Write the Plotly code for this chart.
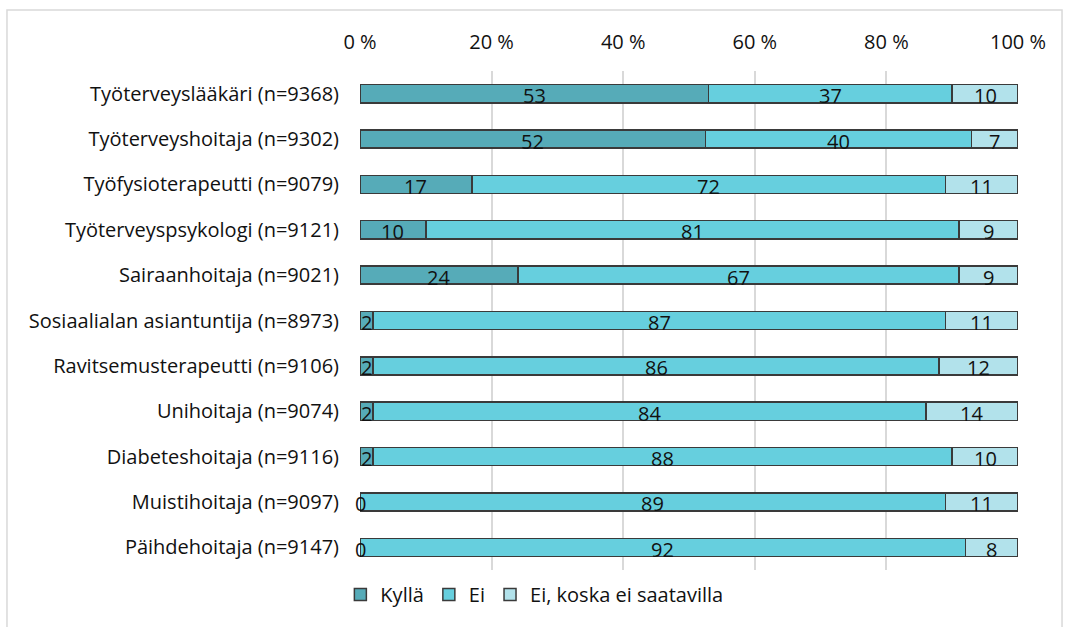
import plotly.graph_objects as go
import numpy as np

categories = [
    "Työterveyslääkäri (n=9368)",
    "Työterveyshoitaja (n=9302)",
    "Työfysioterapeutti (n=9079)",
    "Työterveyspsykologi (n=9121)",
    "Sairaanhoitaja (n=9021)",
    "Sosiaalialan asiantuntija (n=8973)",
    "Ravitsemusterapeutti (n=9106)",
    "Unihoitaja (n=9074)",
    "Diabeteshoitaja (n=9116)",
    "Muistihoitaja (n=9097)",
    "Päihdehoitaja (n=9147)",
]
kylla = [53, 52, 17, 10, 24, 2, 2, 2, 2, 0, 0]
ei = [37, 40, 72, 81, 67, 87, 86, 84, 88, 89, 92]
ei_saatavilla = [10, 7, 11, 9, 9, 11, 12, 14, 10, 11, 8]

series_names = ["Kyllä", "Ei", "Ei, koska ei saatavilla"]
series_values = [kylla, ei, ei_saatavilla]
colors = ["#56ABB8", "#66CFDE", "#B2E2EB"]
tick_vals = [0, 20, 40, 60, 80, 100]
tick_text = ["0 %", "20 %", "40 %", "60 %", "80 %", "100 %"]

FONT = "Open Sans"
FS = 20
TEXT_COLOR = "#111111"

fig = go.Figure()
for name, vals, col in zip(series_names, series_values, colors):
    fig.add_trace(go.Bar(
        y=categories, x=vals, name=name, orientation="h",
        marker=dict(color=col, line=dict(color="#3a3a3a", width=1.5)),
        hoverinfo="x+y+name",
    ))

# value labels, centered in the (normalized) segments
arr = np.array(series_values, dtype=float)
totals = arr.sum(axis=0)
cum = np.zeros(arr.shape[1])
annotations = []
for vals in arr:
    centers = (cum + vals / 2) / totals * 100
    for cat, c, v in zip(categories, centers, vals):
        annotations.append(dict(
            x=c, y=cat, xref="x", yref="y", text=str(int(v)), showarrow=False,
            font=dict(family=FONT, size=FS, color=TEXT_COLOR), yshift=-2,
        ))
    cum += vals

fig.update_layout(
    barmode="stack", barnorm="percent", bargap=0.6,
    width=1069, height=627,
    margin=dict(l=360, r=51, t=71, b=57),
    paper_bgcolor="white", plot_bgcolor="white",
    font=dict(family=FONT, size=FS, color=TEXT_COLOR),
    annotations=annotations,
    showlegend=True,
    legend=dict(orientation="h", x=0.265, xanchor="center", y=-0.01, yanchor="top",
                font=dict(family=FONT, size=FS, color=TEXT_COLOR),
                itemclick=False, traceorder="normal", itemwidth=30),
    shapes=[dict(type="rect", xref="paper", yref="paper",
                 x0=-0.5365, x1=1.0669, y0=-0.3, y1=1.1222,
                 line=dict(color="#D9D9D9", width=1.5), fillcolor="rgba(0,0,0,0)", layer="below")],
)
fig.update_xaxes(side="top", range=[0, 100], tickvals=tick_vals, ticktext=tick_text,
                 showgrid=True, gridcolor="#D9D9D9", gridwidth=1.5, zeroline=False,
                 showline=False, ticks="", ticklabelstandoff=17,
                 tickfont=dict(family=FONT, size=FS, color=TEXT_COLOR), fixedrange=True)
fig.update_yaxes(autorange="reversed", showgrid=False, showline=False, ticks="",
                 ticklabelstandoff=20,
                 tickfont=dict(family=FONT, size=FS, color=TEXT_COLOR), fixedrange=True)

fig.write_html("out.html")
